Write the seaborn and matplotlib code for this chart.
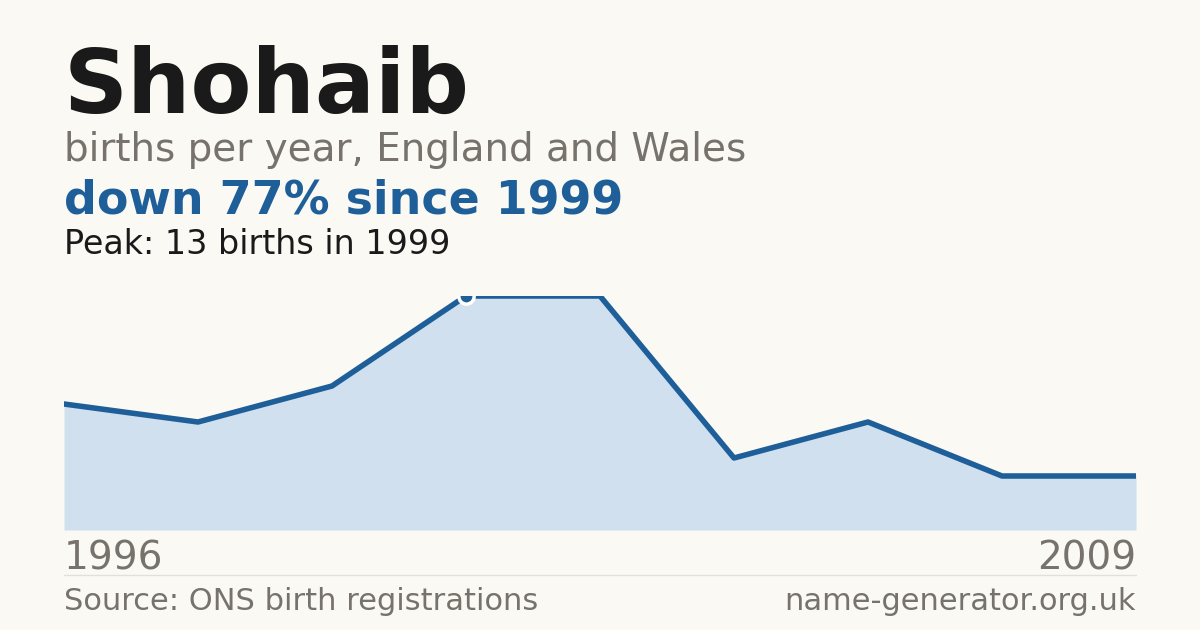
import matplotlib
matplotlib.use("Agg")
import matplotlib.pyplot as plt
import seaborn as sns
import pandas as pd

# data (points equally spaced)
years = [1996, 1997, 1998, 1999, 2000, 2002, 2005, 2007, 2009]
births = [7, 6, 8, 13, 13, 4, 6, 3, 3]
peak_year = 1999
peak_value = 13

bg = "#faf9f4"
blue = "#1f5f99"
fill = "#d0e0ef"
grey = "#77726c"

sns.set_style("white")
plt.rcParams["font.family"] = ["DejaVu Sans"]

df = pd.DataFrame({"idx": range(len(years)), "year": years, "births": births})

W, H = 1200, 630
fig = plt.figure(figsize=(12, 6.3), dpi=100, facecolor=bg)
ax = fig.add_axes([64 / W, 1 - 530 / H, 1072 / W, 234 / H])
ax.set_facecolor(bg)

ax.fill_between(df["idx"], df["births"], 0, color=fill, lw=0)
sns.lineplot(data=df, x="idx", y="births", ax=ax, color=blue, lw=4)
pi = years.index(peak_year)
ax.plot(pi, peak_value, "o", ms=11, color=blue, mec="white", mew=2.5, zorder=5)

ax.set_xlim(0, len(years) - 1)
ax.set_ylim(0, peak_value)
ax.axis("off")

def t(x, y, s, **kw):
    fig.text(x / W, 1 - y / H, s, va="baseline", **kw)

t(64, 113, "Shohaib", fontsize=64, fontweight="bold", color="#1a1a1a")
t(64, 161, "births per year, England and Wales", fontsize=28, color=grey)
t(64, 214, "down 77% since 1999", fontsize=33, fontweight="bold", color=blue)
t(64, 254, f"Peak: {peak_value} births in {peak_year}", fontsize=24, color="#1a1a1a")
t(64, 570, str(years[0]), fontsize=28, color=grey)
t(1136, 570, str(years[-1]), fontsize=28, color=grey, ha="right")
t(64, 610, "Source: ONS birth registrations", fontsize=22, color=grey)
t(1136, 610, "name-generator.org.uk", fontsize=22, color=grey, ha="right")
fig.add_artist(plt.Line2D([64 / W, 1136 / W], [1 - 575 / H] * 2, color="#e2e0da", lw=1))

fig.savefig("out.png", facecolor=bg)
